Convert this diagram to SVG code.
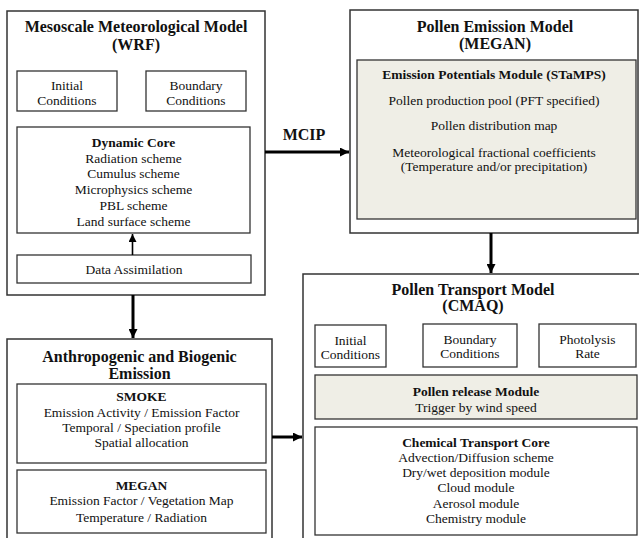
<svg xmlns="http://www.w3.org/2000/svg" width="639" height="538" viewBox="0 0 639 538">
<defs>
<marker id="ah" viewBox="0 0 10 10" refX="10" refY="5" markerWidth="3" markerHeight="3" orient="auto" markerUnits="strokeWidth">
<path d="M0,0 L10,5 L0,10 z" fill="#000"/>
</marker>
<marker id="ahs" viewBox="0 0 10 10" refX="10" refY="5" markerWidth="5" markerHeight="5" orient="auto" markerUnits="strokeWidth">
<path d="M0,0 L10,5 L0,10 z" fill="#000"/>
</marker>
</defs>
<style>
.outer{fill:#fff;stroke:#333;stroke-width:1.5}
.box{fill:#fff;stroke:#333;stroke-width:1.3}
.shade{fill:#efeee6;stroke:#333;stroke-width:1.3}
text{font-family:"Liberation Serif","Times New Roman",serif;fill:#111;text-anchor:middle}
.t{font-size:16px;font-weight:bold}
.b{font-size:13.5px;font-weight:bold}
.r{font-size:13.5px}
.conn{stroke:#000;fill:none}
</style>
<rect width="639" height="538" fill="#fff"/>

<g id="wrf">
<rect class="outer" x="7" y="11" width="258" height="284"/>
<text class="t" x="136" y="32">Mesoscale Meteorological Model</text>
<text class="t" x="136" y="50">(WRF)</text>
</g>
<g id="wrf-initial">
<rect class="box" x="17" y="71" width="100" height="40"/>
<text class="r" x="67" y="90">Initial</text>
<text class="r" x="67" y="105">Conditions</text>
</g>
<g id="wrf-boundary">
<rect class="box" x="146" y="71" width="100" height="40"/>
<text class="r" x="196" y="90">Boundary</text>
<text class="r" x="196" y="105">Conditions</text>
</g>
<g id="wrf-core">
<rect class="box" x="17" y="127" width="233" height="106"/>
<text class="b" x="133.5" y="147">Dynamic Core</text>
<text class="r" x="133.5" y="162.5">Radiation scheme</text>
<text class="r" x="133.5" y="178">Cumulus scheme</text>
<text class="r" x="133.5" y="194">Microphysics scheme</text>
<text class="r" x="133.5" y="209.5">PBL scheme</text>
<text class="r" x="133.5" y="225.5">Land surface scheme</text>
</g>
<g id="wrf-da">
<rect class="box" x="17" y="255" width="234" height="28"/>
<text class="r" x="134" y="274">Data Assimilation</text>
</g>

<g id="megan-pollen">
<rect class="outer" x="350" y="10" width="288" height="223"/>
<text class="t" x="495" y="32">Pollen Emission Model</text>
<text class="t" x="495" y="49">(MEGAN)</text>
</g>
<g id="stamps">
<rect class="shade" x="357" y="60" width="279" height="159"/>
<text class="b" x="494" y="79">Emission Potentials Module (STaMPS)</text>
<text class="r" x="494" y="104.5">Pollen production pool (PFT specified)</text>
<text class="r" x="494" y="129.5">Pollen distribution map</text>
<text class="r" x="494" y="156.5">Meteorological fractional coefficients</text>
<text class="r" x="494" y="170.5">(Temperature and/or precipitation)</text>
</g>

<g id="emission">
<rect class="outer" x="7" y="339" width="265" height="210"/>
<text class="t" x="139.5" y="362">Anthropogenic and Biogenic</text>
<text class="t" x="139.5" y="379">Emission</text>
</g>
<g id="smoke">
<rect class="box" x="17" y="384" width="249" height="79"/>
<text class="b" x="141.5" y="401">SMOKE</text>
<text class="r" x="141.5" y="416.5">Emission Activity / Emission Factor</text>
<text class="r" x="141.5" y="431.5">Temporal / Speciation profile</text>
<text class="r" x="141.5" y="447">Spatial allocation</text>
</g>
<g id="megan">
<rect class="box" x="17" y="470" width="249" height="63"/>
<text class="b" x="141.5" y="489.5">MEGAN</text>
<text class="r" x="141.5" y="505">Emission Factor / Vegetation Map</text>
<text class="r" x="141.5" y="521.5">Temperature / Radiation</text>
</g>

<g id="cmaq">
<rect class="outer" x="303" y="274" width="345" height="280"/>
<text class="t" x="473" y="295">Pollen Transport Model</text>
<text class="t" x="473" y="311">(CMAQ)</text>
</g>
<g id="cmaq-initial">
<rect class="box" x="315" y="325" width="71" height="42"/>
<text class="r" x="350.5" y="344.5">Initial</text>
<text class="r" x="350.5" y="359">Conditions</text>
</g>
<g id="cmaq-boundary">
<rect class="box" x="423" y="324" width="94" height="43"/>
<text class="r" x="470" y="343.5">Boundary</text>
<text class="r" x="470" y="357.5">Conditions</text>
</g>
<g id="cmaq-photolysis">
<rect class="box" x="539" y="324" width="97" height="43"/>
<text class="r" x="587.5" y="343.5">Photolysis</text>
<text class="r" x="587.5" y="357.5">Rate</text>
</g>
<g id="release">
<rect class="shade" x="315" y="375" width="322" height="44"/>
<text class="b" x="476" y="395.5">Pollen release Module</text>
<text class="r" x="476" y="411.5">Trigger by wind speed</text>
</g>
<g id="ctm">
<rect class="box" x="315" y="427" width="322" height="108"/>
<text class="b" x="476" y="446.5">Chemical Transport Core</text>
<text class="r" x="476" y="461.5">Advection/Diffusion scheme</text>
<text class="r" x="476" y="476.5">Dry/wet deposition module</text>
<text class="r" x="476" y="492">Cloud module</text>
<text class="r" x="476" y="507.5">Aerosol module</text>
<text class="r" x="476" y="523">Chemistry module</text>
</g>

<g id="connectors">
<line class="conn" x1="265" y1="152" x2="349" y2="152" stroke-width="3" marker-end="url(#ah)"/>
<text class="t" x="304" y="140">MCIP</text>
<line class="conn" x1="491" y1="233" x2="491" y2="273" stroke-width="3" marker-end="url(#ah)"/>
<line class="conn" x1="133" y1="295" x2="133" y2="338" stroke-width="3" marker-end="url(#ah)"/>
<line class="conn" x1="272" y1="437" x2="302" y2="437" stroke-width="3" marker-end="url(#ah)"/>
<line class="conn" x1="132.5" y1="255" x2="132.5" y2="234" stroke-width="1.6" marker-end="url(#ahs)"/>
</g>
</svg>
